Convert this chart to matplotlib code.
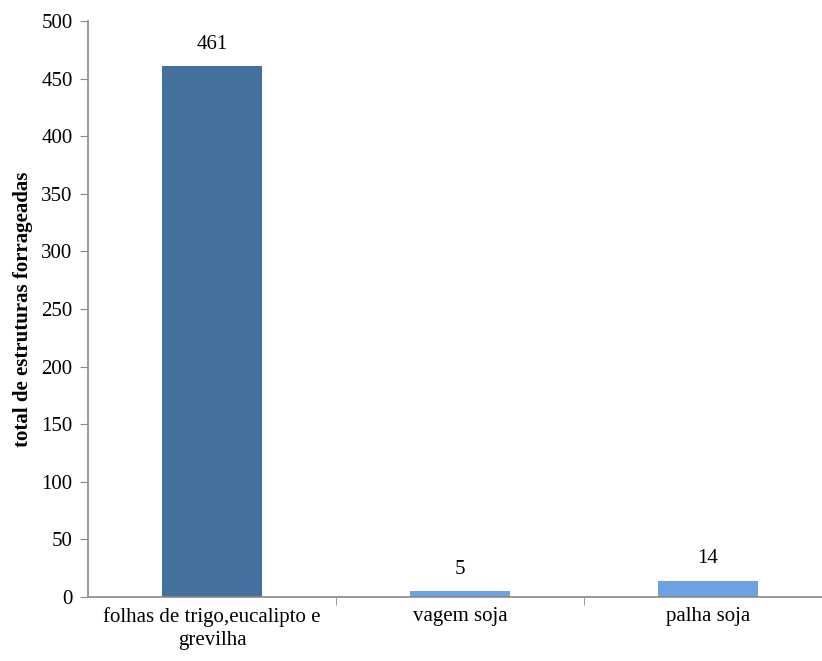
import matplotlib.pyplot as plt

categories = ['folhas de trigo,eucalipto e\ngrevilha', 'vagem soja', 'palha soja']
values = [461, 5, 14]
colors = ['#44709e', '#6ca2e2', '#6ca2e2']

plt.rcParams['font.family'] = ['Liberation Serif', 'DejaVu Serif']

fig = plt.figure(figsize=(8.22, 6.61), dpi=100)
ax = fig.add_axes([0.107, 0.097, 0.893, 0.871])

x = list(range(len(categories)))
bars = ax.bar(x, values, width=0.4, color=colors, zorder=2)
for b, v in zip(bars, values):
    ax.annotate(str(v), (b.get_x() + b.get_width() / 2, v), xytext=(0, 9),
                textcoords='offset points', ha='center', va='bottom', fontsize=15)

ax.set_xlim(-0.5, 2.46)
ax.set_ylim(0, 500)
ax.set_yticks(range(0, 501, 50))
ax.set_xticks(x)
ax.set_xticklabels(categories, fontsize=15, linespacing=1.3)
ax.set_xticks([0.5, 1.5], minor=True)
ax.tick_params(axis='x', which='major', length=0, pad=7)
ax.tick_params(axis='x', which='minor', length=6, color='#888888', direction='out')
ax.tick_params(axis='y', labelsize=15, length=6, color='#888888', pad=5)

for s in ['top', 'right']:
    ax.spines[s].set_visible(False)
for s in ['left', 'bottom']:
    ax.spines[s].set_color('#888888')
    ax.spines[s].set_linewidth(1.2)

ax.set_ylabel('total de estruturas forrageadas', fontsize=15, fontweight='bold',
              family=['Liberation Serif'], labelpad=6)

fig.savefig('out.png', dpi=100)
